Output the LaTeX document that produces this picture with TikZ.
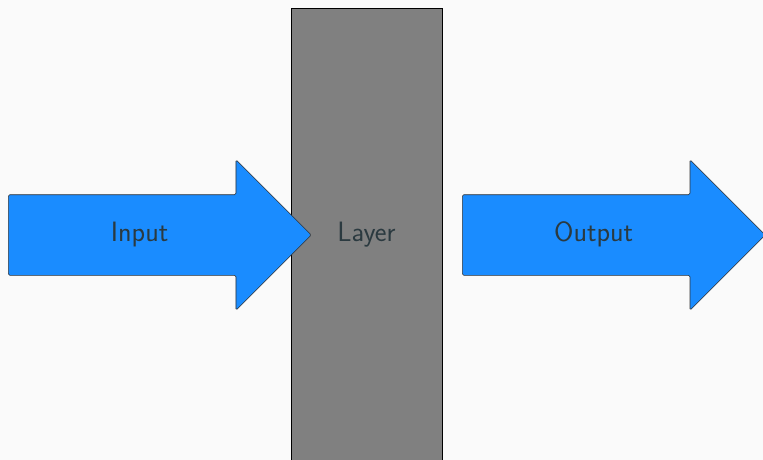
\documentclass[tikz,border=0pt]{standalone}
\usepackage{tikz}
\usetikzlibrary{shapes.arrows, positioning}
\definecolor{bgcol}{HTML}{FAFAFA}
\definecolor{arrowblue}{HTML}{1A8CFF}
\definecolor{layergray}{HTML}{808080}
\definecolor{labelcol}{HTML}{2B3A40}
\tikzstyle{layerbox} = [rectangle, minimum width=151pt, minimum height=454pt, text centered, draw=black, line width=0.8pt, fill=layergray, text=labelcol, font=\fontsize{28}{33}\sffamily]
\tikzstyle{flow} = [single arrow, single arrow head extend=35pt, single arrow head indent=0pt, single arrow tip angle=90, minimum height=303pt, text height=18pt, text depth=5pt, inner ysep=28.5pt, rounded corners=1.5pt, draw=black!80, line width=0.6pt, fill=arrowblue, text=labelcol, font=\fontsize{28}{33}\sffamily]

\begin{document}
\begin{tikzpicture}
		\fill[bgcol] (0,0) rectangle (763pt,-460pt);
		\useasboundingbox (0,0) rectangle (763pt,-460pt);
		
		\node (layer) [layerbox] at (366.5pt,-235pt) {Layer};
		
		\node (input) [flow, anchor=tail] at (8pt,-235pt) {Input};
		\node (output) [flow, anchor=tail] at (462pt,-235pt) {Output};
		
		\end{tikzpicture}
\end{document}
